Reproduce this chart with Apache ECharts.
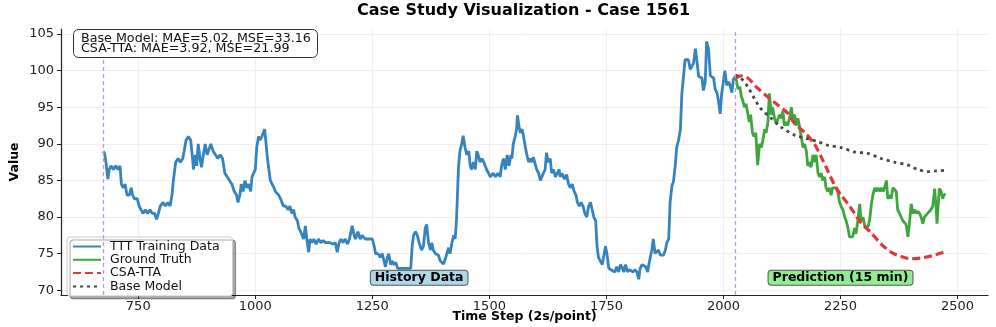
<!DOCTYPE html>
<html>
<head>
<meta charset="utf-8">
<script src="https://cdn.jsdelivr.net/npm/echarts@6/dist/echarts.min.js"></script>
<style>
  html, body { margin: 0; padding: 0; background: #fff; }
  #chartMain { width: 996px; height: 327px; }
</style>
</head>
<body>
<div id="chartMain"></div>
<script>
// axis ticks
const xTicks = [750, 1000, 1250, 1500, 1750, 2000, 2250, 2500];
const yTicks = [70, 75, 80, 85, 90, 95, 100, 105];

// history split / region labels
const splitSteps = [675, 2025];
const regionLabels = [
    ['History Data', 1350, 71.7, '#add8e6'],
    ['Prediction (15 min)', 2250, 71.7, '#90ee90']
];
const metricLines = ['Base Model: MAE=5.02, MSE=33.16', 'CSA-TTA: MAE=3.92, MSE=21.99'];

// [time step, value]
const trainData = [
    [675, 89], [678, 88.7], [681, 87.5], [685, 85.2], [688, 86.5], [692, 87], [697, 86.5], [702, 87],
    [707, 86.5], [711, 87], [714, 84.5], [718, 84], [722, 84.5], [726, 83], [731, 83], [735, 84],
    [738, 83], [742, 82.5], [748, 82.5], [752, 81.5], [756, 81.4], [760, 80.5], [765, 81], [770, 80.5],
    [775, 81], [780, 80.5], [785, 80.5], [789, 79.7], [793, 80.5], [797, 81.5], [803, 82], [808, 81.5],
    [813, 82], [818, 81.5], [822, 83], [825, 85], [830, 87.5], [835, 88], [840, 87.5], [845, 88],
    [848, 89], [852, 90.5], [857, 91], [862, 90.5], [866, 88], [868, 86.5], [872, 88.5], [875, 87],
    [878, 90], [882, 88], [885, 86.8], [889, 88.5], [893, 90], [897, 88.5], [901, 88.5], [905, 90],
    [910, 89], [915, 88.5], [920, 88], [925, 88.5], [930, 88], [935, 86], [940, 85.5], [945, 85],
    [950, 84.5], [955, 83.5], [960, 83], [963, 82], [967, 83], [970, 84.5], [974, 83.5], [978, 85],
    [982, 84], [986, 84.5], [990, 83.5], [993, 85.5], [997, 85.5], [1000, 86.5], [1003, 89.5], [1007, 91],
    [1010, 90.5], [1014, 91], [1017, 90.8], [1020, 92], [1023, 90], [1026, 88], [1029, 86.5], [1032, 85],
    [1036, 84.5], [1040, 84], [1043, 83.5], [1047, 83.5], [1050, 83], [1054, 82.5], [1057, 82], [1060, 81.5],
    [1065, 81.5], [1070, 81], [1074, 81.5], [1078, 80.5], [1082, 81], [1085, 80], [1090, 79.5], [1093, 78.5],
    [1097, 78], [1100, 77.5], [1103, 77], [1107, 78.8], [1110, 77], [1114, 75.2], [1117, 77], [1121, 76.5],
    [1125, 77], [1130, 76.3], [1135, 77], [1140, 76.5], [1145, 76.8], [1150, 76.5], [1155, 76.5], [1160, 76.5],
    [1165, 76.3], [1171, 76.5], [1175, 75.2], [1179, 76.5], [1183, 77], [1187, 76.5], [1192, 77], [1197, 76.3],
    [1201, 77], [1205, 77], [1207, 78.8], [1211, 77.5], [1214, 77], [1219, 78], [1224, 77], [1228, 77.5],
    [1235, 77], [1242, 77], [1250, 77], [1254, 76], [1257, 75], [1262, 75], [1267, 74.5], [1271, 75],
    [1275, 74], [1278, 73.2], [1282, 74.5], [1285, 75], [1289, 73.5], [1292, 74], [1296, 73.5], [1300, 73.8],
    [1304, 73], [1310, 73], [1315, 73], [1320, 73], [1326, 73], [1332, 73], [1335, 76], [1338, 77.5],
    [1342, 78], [1346, 77.5], [1350, 76.5], [1355, 75.5], [1359, 76], [1363, 78.5], [1366, 79], [1370, 76.5],
    [1374, 75.5], [1377, 76.5], [1380, 75.5], [1385, 75], [1391, 74.8], [1395, 74], [1399, 74], [1402, 73.6],
    [1406, 74.3], [1409, 75], [1413, 75.8], [1416, 75], [1420, 76.5], [1424, 77.5], [1427, 77], [1430, 80],
    [1434, 86.8], [1437, 89], [1441, 90], [1444, 91.1], [1448, 89.5], [1452, 88.5], [1456, 89], [1459, 87],
    [1462, 86.5], [1466, 87.5], [1470, 86.5], [1473, 89], [1476, 88.5], [1480, 87.5], [1484, 88], [1488, 87.5],
    [1491, 87], [1494, 86.5], [1498, 86], [1502, 85.5], [1508, 86], [1513, 85.5], [1518, 86], [1523, 85.5],
    [1526, 87], [1530, 88], [1534, 86.5], [1538, 88.5], [1542, 87], [1546, 88.5], [1548, 88], [1551, 90],
    [1555, 91], [1558, 92], [1560, 93.9], [1563, 92.5], [1566, 91.5], [1570, 92], [1573, 91], [1577, 89.5],
    [1580, 88.5], [1584, 87.5], [1588, 88], [1591, 87.5], [1594, 88.2], [1597, 88.3], [1601, 86.5], [1605, 86],
    [1609, 85], [1612, 85.5], [1615, 85.3], [1619, 86.5], [1622, 88.8], [1626, 87.5], [1630, 88], [1633, 86],
    [1637, 86.5], [1641, 85.5], [1645, 86], [1649, 86.5], [1651, 85.5], [1655, 86], [1660, 85.2], [1665, 85.8],
    [1669, 84.5], [1673, 84], [1677, 84.5], [1681, 83.5], [1685, 83], [1688, 82], [1692, 81.5], [1696, 82],
    [1700, 81.5], [1704, 80.5], [1708, 80], [1712, 81.5], [1716, 82], [1720, 82.2], [1723, 80], [1727, 79.5],
    [1730, 76], [1733, 74.5], [1737, 74.3], [1741, 73.5], [1744, 73.5], [1748, 76], [1751, 75], [1755, 73],
    [1760, 72.8], [1764, 73], [1768, 72.5], [1772, 73.2], [1776, 72.5], [1780, 73.5], [1783, 73.2], [1787, 72.5],
    [1791, 73.5], [1795, 72.5], [1799, 72.8], [1803, 73], [1807, 72.5], [1811, 72.8], [1815, 72.5], [1819, 71.5],
    [1822, 73], [1826, 73.5], [1830, 73.5], [1834, 73.2], [1838, 72.5], [1842, 74], [1847, 75.5], [1850, 77],
    [1854, 75], [1858, 75], [1861, 75.5], [1865, 74.8], [1869, 75], [1872, 74.8], [1876, 75.5], [1879, 76.5],
    [1883, 77], [1886, 82], [1890, 84.3], [1893, 84.8], [1897, 87], [1900, 89.5], [1904, 90.5], [1908, 92],
    [1911, 96.8], [1914, 97], [1918, 101.5], [1921, 101.5], [1925, 101.5], [1929, 100.2], [1932, 100.2], [1936, 101],
    [1940, 103], [1943, 101.5], [1947, 99.2], [1951, 99.2], [1954, 99], [1957, 97.3], [1961, 98.5], [1964, 104],
    [1968, 103], [1972, 99.3], [1975, 99.3], [1979, 99], [1982, 97.5], [1986, 97], [1989, 96], [1993, 94.1],
    [1996, 96.8], [2000, 97], [2003, 100], [2007, 98], [2011, 98.5], [2014, 98], [2018, 97], [2021, 98.8],
    [2025, 99.2]
];

const truthData = [
    [2025, 99.4], [2028, 98.5], [2031, 97.5], [2035, 97.8], [2038, 96.5], [2041, 96], [2045, 95], [2048, 95.5],
    [2051, 94.5], [2055, 93], [2058, 94], [2062, 91.5], [2065, 91], [2069, 91.5], [2073, 87.1], [2077, 90],
    [2081, 89.5], [2084, 90.5], [2088, 92], [2091, 91.5], [2095, 93], [2098, 96.9], [2102, 94], [2105, 95],
    [2109, 93.5], [2113, 92.8], [2116, 93], [2120, 94], [2124, 93.5], [2127, 94.5], [2130, 92.5], [2134, 93],
    [2137, 92.5], [2141, 93.5], [2145, 95], [2148, 93.5], [2152, 94], [2155, 92.5], [2159, 93.5], [2162, 92.5],
    [2166, 91], [2170, 89.5], [2173, 90], [2177, 89], [2180, 87], [2184, 87.5], [2187, 86.8], [2191, 88.5],
    [2194, 87.5], [2198, 88.5], [2202, 86], [2205, 85.5], [2209, 86], [2212, 85], [2216, 85.5], [2219, 84],
    [2223, 83.5], [2226, 84], [2230, 83], [2233, 84], [2237, 83.8], [2241, 84], [2244, 83.5], [2248, 82],
    [2251, 81.5], [2255, 81], [2259, 80], [2262, 79.5], [2266, 78.5], [2269, 77.3], [2273, 77.3], [2276, 77.3],
    [2280, 78.5], [2283, 77.7], [2287, 79.5], [2291, 81.8], [2294, 79.5], [2298, 80], [2301, 79], [2305, 78.5],
    [2309, 78.8], [2312, 79.5], [2316, 81.8], [2319, 83], [2323, 84], [2326, 83.5], [2330, 84], [2334, 83.5],
    [2337, 84], [2341, 83.5], [2344, 84], [2348, 85], [2351, 82.5], [2355, 83], [2358, 82.5], [2362, 84],
    [2365, 84], [2369, 83.5], [2372, 81], [2376, 80.5], [2380, 80.5], [2383, 79.5], [2387, 79.5], [2390, 79],
    [2394, 77.3], [2397, 79], [2401, 81.8], [2405, 80.5], [2408, 81], [2412, 80.5], [2415, 80.8], [2419, 80.5],
    [2422, 80], [2426, 79.1], [2429, 80], [2433, 80.2], [2436, 80.5], [2440, 80.5], [2443, 81], [2447, 81.5],
    [2451, 83.9], [2454, 81.5], [2456, 79.1], [2459, 82], [2461, 83.9], [2465, 83.5], [2468, 82.5], [2471, 83],
    [2474, 83.2]
];

const csaData = [
    [2025, 99.0], [2037, 99.3], [2052, 99.0], [2073, 97.6], [2095, 96.4], [2116, 95.3], [2137, 94.2],
    [2152, 92.8], [2173, 91.6], [2194, 90.0], [2208, 88.3], [2223, 86.3], [2237, 84.4], [2251, 83.0],
    [2266, 81.8], [2280, 80.5], [2294, 79.2], [2316, 77.8], [2337, 76.3], [2358, 75.2], [2380, 74.6],
    [2401, 74.3], [2422, 74.4], [2444, 74.7], [2465, 75.1], [2474, 75.3]
];

const baseData = [
    [2025, 99.4], [2037, 99.0], [2052, 97.8], [2066, 96.2], [2080, 94.8], [2102, 93.5], [2123, 92.3],
    [2152, 91.2], [2180, 90.7], [2202, 90.3], [2223, 89.8], [2251, 89.5], [2280, 88.9], [2308, 88.7],
    [2337, 88.0], [2365, 87.5], [2394, 87.1], [2415, 86.5], [2437, 86.2], [2455, 86.3], [2474, 86.4]
];

const totalChartInit = () => {
    var chartDom = document.getElementById('chartMain');
    var myChart = echarts.init(chartDom, null, { renderer: 'canvas' });
    var font = 'DejaVu Sans';
    var option;

    option = {
        animation: false,
        title: [{
            text: 'Case Study Visualization - Case 1561',
            left: 357,
            top: 0,
            padding: [3, 0, 3, 0],
            textStyle: { fontFamily: font, fontSize: 16, fontWeight: 'bold', color: '#000' }
        }, {
            text: metricLines.join('\n'),
            left: 73,
            top: 30,
            padding: [3, 7, 2, 8],
            backgroundColor: '#fff',
            borderColor: '#333',
            borderWidth: 1,
            borderRadius: 5,
            textStyle: { fontFamily: font, fontSize: 12.7, fontWeight: 'normal', color: '#111', lineHeight: 10.5 }
        }],
        legend: {
            orient: 'vertical',
            left: 67,
            top: 237,
            itemWidth: 28,
            itemHeight: 10,
            itemGap: 0.3,
            padding: [3, 13, 3, 5],
            backgroundColor: '#fff',
            borderColor: '#ccc',
            borderWidth: 1,
            borderRadius: 3,
            shadowColor: 'rgba(0,0,0,0.35)',
            shadowBlur: 0,
            shadowOffsetX: 3,
            shadowOffsetY: 3,
            itemStyle: { opacity: 0 },
            textStyle: { fontFamily: font, fontSize: 12.5, lineHeight: 12, color: '#111', padding: [0, 0, 0, 4] },
            data: ['TTT Training Data', 'Ground Truth', 'CSA-TTA', 'Base Model']
        },
        grid: {
            left: 61,
            right: 8,
            top: 29,
            bottom: 32,
            containLabel: false,
            outerBoundsMode: 'none'
        },
        xAxis: {
            type: 'value',
            min: 585,
            max: 2565,
            name: 'Time Step (2s/point)',
            nameLocation: 'middle',
            nameGap: 15,
            nameMoveOverlap: false,
            nameTextStyle: { fontFamily: font, fontSize: 12.5, fontWeight: 'bold', color: '#000' },
            axisLine: { show: true, lineStyle: { color: '#222', width: 1.2 } },
            axisTick: { show: true, customValues: xTicks, length: 4, lineStyle: { color: '#222' } },
            axisLabel: {
                customValues: xTicks, fontFamily: font, fontSize: 13, color: '#222', margin: 5,
                formatter: v => String(v)
            },
            splitLine: { show: true, lineStyle: { color: '#ebebeb', width: 0.8 } }
        },
        yAxis: {
            type: 'value',
            min: 69.35,
            max: 105.7,
            name: 'Value',
            nameLocation: 'middle',
            nameGap: 40,
            nameRotate: 90,
            nameMoveOverlap: false,
            nameTextStyle: { fontFamily: font, fontSize: 12.5, fontWeight: 'bold', color: '#000' },
            axisLine: { show: true, lineStyle: { color: '#222', width: 1.2 } },
            axisTick: { show: true, customValues: yTicks, length: 4, lineStyle: { color: '#222' } },
            axisLabel: {
                customValues: yTicks, fontFamily: font, fontSize: 13, color: '#222', margin: 7,
                formatter: v => String(v)
            },
            splitLine: { show: true, lineStyle: { color: '#ebebeb', width: 0.8 } }
        },
        series: [{
            name: 'TTT Training Data',
            type: 'line',
            data: trainData,
            symbol: 'none',
            lineStyle: { color: '#3584c0', width: 2.8 },
            itemStyle: { color: '#3584c0' },
            markLine: {
                silent: true,
                symbol: ['none', 'none'],
                label: { show: false },
                lineStyle: { color: '#bb9bdb', type: [4, 3], width: 1.3 },
                data: splitSteps.map(s => ({ xAxis: s }))
            },
            markPoint: {
                silent: true,
                symbol: 'rect',
                symbolSize: 0,
                label: {
                    show: true,
                    position: 'inside',
                    fontFamily: font,
                    fontSize: 12.5,
                    fontWeight: 'bold',
                    color: '#000',
                    borderColor: '#555',
                    borderWidth: 1,
                    borderRadius: 3,
                    padding: [1, 4, 0, 4]
                },
                data: regionLabels.map(r => ({
                    coord: [r[1], r[2]],
                    label: { formatter: r[0], backgroundColor: r[3] }
                }))
            }
        },
        {
            name: 'Ground Truth',
            type: 'line',
            data: truthData,
            symbol: 'none',
            lineStyle: { color: '#3da73d', width: 2.8 },
            itemStyle: { color: '#3da73d' }
        },
        {
            name: 'CSA-TTA',
            type: 'line',
            data: csaData,
            symbol: 'none',
            smooth: 0.3,
            lineStyle: { color: '#dc3b3c', width: 3.2, type: [8, 4] },
            itemStyle: { color: '#dc3b3c' }
        },
        {
            name: 'Base Model',
            type: 'line',
            data: baseData,
            symbol: 'none',
            smooth: 0.3,
            lineStyle: { color: '#484848', width: 2.8, type: [3, 4] },
            itemStyle: { color: '#484848' }
        }
        ]
    };

    option && myChart.setOption(option);
};

totalChartInit();
</script>
</body>
</html>
